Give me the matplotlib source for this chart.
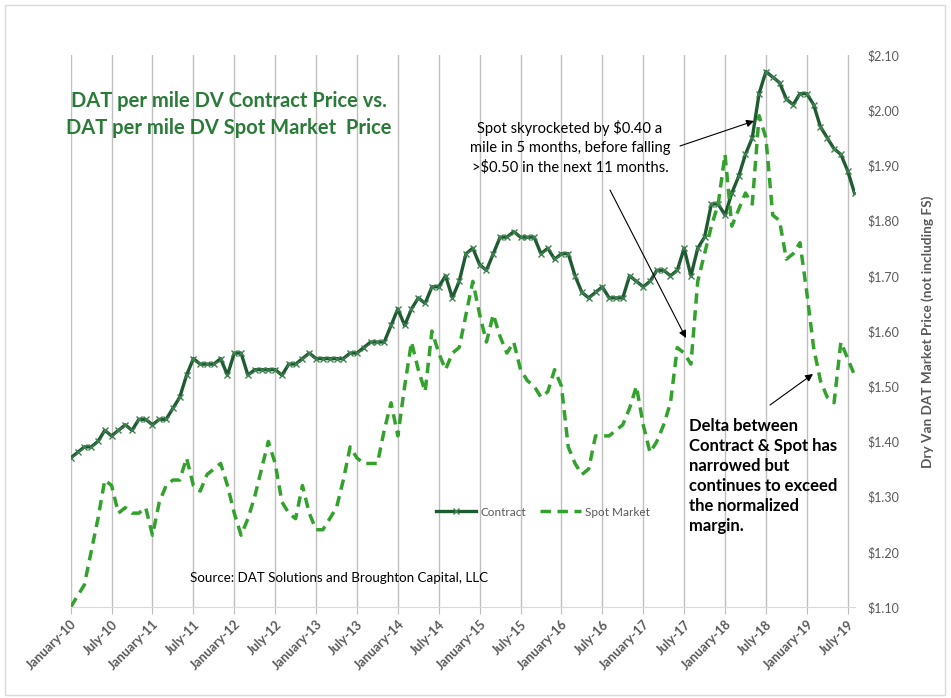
import numpy as np
import matplotlib
matplotlib.use("Agg")
import matplotlib.pyplot as plt
from matplotlib.patches import Rectangle
from matplotlib.ticker import FuncFormatter

# monthly DAT dry van rates, January 2010 .. August 2019
contract = [
    1.37, 1.38, 1.39, 1.39, 1.40, 1.42, 1.41, 1.42, 1.43, 1.42, 1.44, 1.44,
    1.43, 1.44, 1.44, 1.46, 1.48, 1.52, 1.55, 1.54, 1.54, 1.54, 1.55, 1.52,
    1.56, 1.56, 1.52, 1.53, 1.53, 1.53, 1.53, 1.52, 1.54, 1.54, 1.55, 1.56,
    1.55, 1.55, 1.55, 1.55, 1.55, 1.56, 1.56, 1.57, 1.58, 1.58, 1.58, 1.61,
    1.64, 1.61, 1.64, 1.66, 1.65, 1.68, 1.68, 1.70, 1.66, 1.69, 1.74, 1.75,
    1.72, 1.71, 1.74, 1.77, 1.77, 1.78, 1.77, 1.77, 1.77, 1.74, 1.75, 1.73,
    1.74, 1.74, 1.70, 1.67, 1.66, 1.67, 1.68, 1.66, 1.66, 1.66, 1.70, 1.69,
    1.68, 1.69, 1.71, 1.71, 1.70, 1.71, 1.75, 1.70, 1.75, 1.77, 1.83, 1.83,
    1.81, 1.85, 1.88, 1.92, 1.95, 2.03, 2.07, 2.06, 2.05, 2.02, 2.01, 2.03,
    2.03, 2.01, 1.97, 1.95, 1.93, 1.92, 1.89, 1.85,
]
spot = [
    1.10, 1.12, 1.14, 1.20, 1.26, 1.33, 1.32, 1.27, 1.28, 1.27, 1.27, 1.28,
    1.23, 1.29, 1.32, 1.33, 1.33, 1.37, 1.32, 1.31, 1.34, 1.35, 1.36, 1.32,
    1.27, 1.23, 1.26, 1.30, 1.35, 1.40, 1.36, 1.29, 1.27, 1.26, 1.32, 1.27,
    1.24, 1.24, 1.26, 1.28, 1.33, 1.39, 1.37, 1.36, 1.36, 1.36, 1.42, 1.47,
    1.41, 1.50, 1.58, 1.53, 1.49, 1.60, 1.56, 1.53, 1.56, 1.57, 1.63, 1.69,
    1.63, 1.58, 1.63, 1.59, 1.56, 1.58, 1.53, 1.51, 1.50, 1.48, 1.49, 1.53,
    1.50, 1.39, 1.36, 1.34, 1.35, 1.41, 1.41, 1.41, 1.42, 1.43, 1.46, 1.50,
    1.43, 1.38, 1.40, 1.43, 1.47, 1.57, 1.56, 1.54, 1.69, 1.74, 1.79, 1.83,
    1.92, 1.79, 1.82, 1.85, 1.83, 1.99, 1.95, 1.81, 1.80, 1.73, 1.74, 1.76,
    1.67, 1.57, 1.51, 1.48, 1.47, 1.58, 1.55, 1.52,
]
tick_labels = [
    "January-10", "July-10", "January-11", "July-11", "January-12", "July-12",
    "January-13", "July-13", "January-14", "July-14", "January-15", "July-15",
    "January-16", "July-16", "January-17", "July-17", "January-18", "July-18",
    "January-19", "July-19",
]

W, H = 951, 698
plt.rcParams['font.family'] = ['Lato', 'DejaVu Sans']

GRAY_TXT = '#595959'
DARK_GREEN = '#1E5B31'
SPOT_GREEN = '#32A22C'
TITLE_GREEN = '#2A7A38'


def fx(px):
    return px / W


def fy(py):
    # pixel rows counted from the top
    return 1 - py / H


fig = plt.figure(figsize=(W / 100, H / 100), dpi=100)
fig.patches.append(Rectangle((fx(5), fy(695)), fx(945) - fx(5), (695 - 5) / H,
                             transform=fig.transFigure, fill=False,
                             ec='#D9D9D9', lw=1))

ax = fig.add_axes([fx(70.7), fy(607), fx(854.5) - fx(70.7), (607 - 55) / H])
x = np.arange(len(contract))

ax.plot(x, contract, color=DARK_GREEN, lw=2.4, marker='x', ms=5, mew=1.0,
        mec='#3F8050', label='Contract', zorder=3)
ax.plot(x, spot, color=SPOT_GREEN, lw=2.5, ls=(0, (3, 1.9)),
        label='Spot Market', zorder=4)

ax.set_xlim(0, len(contract) - 1)
ax.set_ylim(1.10, 2.10)

ax.set_xticks(np.arange(0, len(contract), 6))
ax.set_xticklabels(tick_labels, rotation=45, ha='right', rotation_mode='anchor',
                   fontsize=9.3, fontweight='bold', color=GRAY_TXT)
ax.tick_params(axis='x', length=5, color='#BFBFBF', pad=3)
ax.grid(axis='x', color='#BFBFBF', lw=1)

ax.yaxis.tick_right()
ax.set_yticks(np.round(np.arange(1.10, 2.101, 0.10), 2))
ax.yaxis.set_major_formatter(FuncFormatter(lambda v, p: f"${v:.2f}"))
ax.tick_params(axis='y', length=0, pad=9, labelsize=9, labelcolor=GRAY_TXT)

for s in ['top', 'left', 'right']:
    ax.spines[s].set_visible(False)
ax.spines['bottom'].set_color('#D9D9D9')

fig.text(fx(928), fy(332), "Dry Van DAT Market Price (not including FS)",
         rotation=90, ha='center', va='center', fontsize=9.8,
         fontweight='bold', color=GRAY_TXT)

ax.legend(loc='center', bbox_to_anchor=(fx(543), fy(512)),
          bbox_transform=fig.transFigure, ncol=2, frameon=False, fontsize=8.5,
          labelcolor=GRAY_TXT, handlelength=3.4, columnspacing=1.2,
          handletextpad=0.4)

# title block
fig.text(fx(229), fy(101), "DAT per mile DV Contract Price vs.", ha='center',
         va='center', fontsize=14.5, fontweight='bold', color=TITLE_GREEN)
fig.text(fx(229), fy(128), "DAT per mile DV Spot Market  Price", ha='center',
         va='center', fontsize=14.5, fontweight='bold', color=TITLE_GREEN)

fig.text(fx(570), fy(147),
         "Spot skyrocketed by $0.40 a\nmile in 5 months, before falling\n>$0.50 in the next 11 months.",
         ha='center', va='center', fontsize=10.6, color='black',
         linespacing=1.45)

fig.text(fx(689), fy(476),
         "Delta between\nContract & Spot has\nnarrowed but\ncontinues to exceed\nthe normalized\nmargin.",
         ha='left', va='center', fontsize=12, fontweight='bold',
         color='black', linespacing=1.32)

fig.text(fx(190), fy(578), "Source: DAT Solutions and Broughton Capital, LLC",
         ha='left', va='center', fontsize=9.6, color='black')

arrow = dict(arrowstyle='-|>', color='black', lw=0.8, mutation_scale=11,
             shrinkA=0, shrinkB=0)
ax.annotate('', xy=(fx(754), fy(121)), xytext=(fx(680), fy(146)),
            xycoords='figure fraction', textcoords='figure fraction',
            arrowprops=arrow)
ax.annotate('', xy=(fx(686), fy(338)), xytext=(fx(610), fy(190)),
            xycoords='figure fraction', textcoords='figure fraction',
            arrowprops=arrow)
ax.annotate('', xy=(fx(813), fy(374)), xytext=(fx(770), fy(405)),
            xycoords='figure fraction', textcoords='figure fraction',
            arrowprops=arrow)

fig.savefig("out.png", dpi=100)
